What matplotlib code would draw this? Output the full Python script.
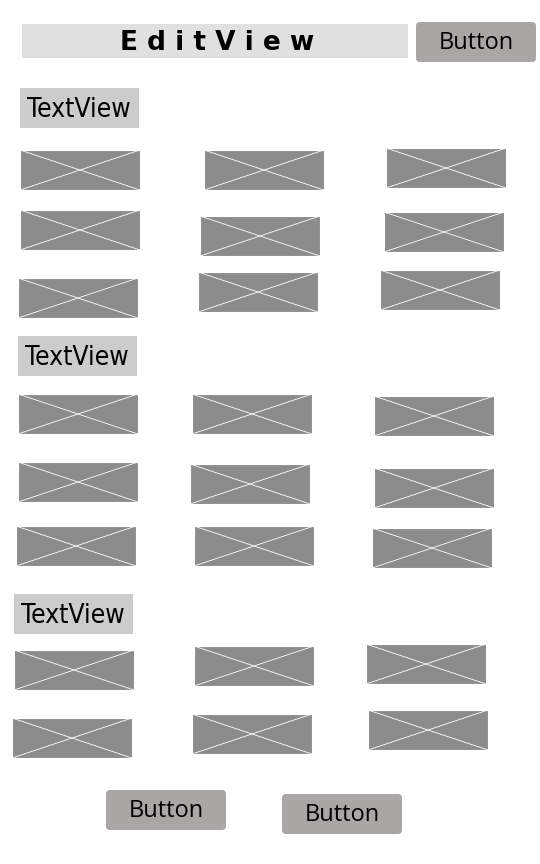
import matplotlib
matplotlib.use("Agg")
import matplotlib.pyplot as plt
from matplotlib.patches import Rectangle, FancyBboxPatch

# wireframe elements (x, y of top-left in pixels)
image_x = [20,204,386, 20,200,384, 18,198,380,
           18,192,374, 18,190,374, 16,194,372,
           14,194,366, 12,192,368]
image_y = [150,150,148, 210,216,212, 278,272,270,
           394,394,396, 462,464,468, 526,526,528,
           650,646,644, 718,714,710]
textview_x = [20, 18, 14]
textview_y = [88, 336, 594]
button_x = [416, 106, 282]
button_y = [22, 790, 794]
labels_textview = ["TextView"] * 3
label_button = "Button"
label_edit = "EditView"

fig = plt.figure(figsize=(5.4, 8.64), dpi=100)
ax = fig.add_axes([0, 0, 1, 1])
ax.set_xlim(0, 540); ax.set_ylim(864, 0); ax.axis("off")

# EditView
ax.add_patch(Rectangle((22, 24), 386, 34, color="#e0e0e0", lw=0))
ax.text(217, 43, " ".join(label_edit), ha="center", va="center", fontsize=19,
        fontweight="bold", family="DejaVu Sans", color="black")

for x, y in zip(button_x, button_y):
    ax.add_patch(FancyBboxPatch((x + 4, y + 4), 112, 32,
                 boxstyle="round,pad=4", color="#aba6a6", lw=0))
    ax.text(x + 60, y + 21, label_button, ha="center", va="center",
            fontsize=17, family=["Open Sans", "DejaVu Sans"], color="black")

for x, y, lab in zip(textview_x, textview_y, labels_textview):
    ax.add_patch(Rectangle((x, y), 119, 40, color="#cccccc", lw=0))
    ax.text(x + 59, y + 22, lab, ha="center", va="center", fontsize=19,
            family=["DejaVu Sans"], stretch="condensed", color="black")

w, h = 120, 40
for x, y in zip(image_x, image_y):
    ax.add_patch(Rectangle((x, y), w, h, facecolor="#8c8c8c",
                 edgecolor="white", lw=0.8))
    ax.plot([x, x + w], [y, y + h], color="white", lw=0.6)
    ax.plot([x, x + w], [y + h, y], color="white", lw=0.6)

fig.savefig("out.png", dpi=100, facecolor="white")
